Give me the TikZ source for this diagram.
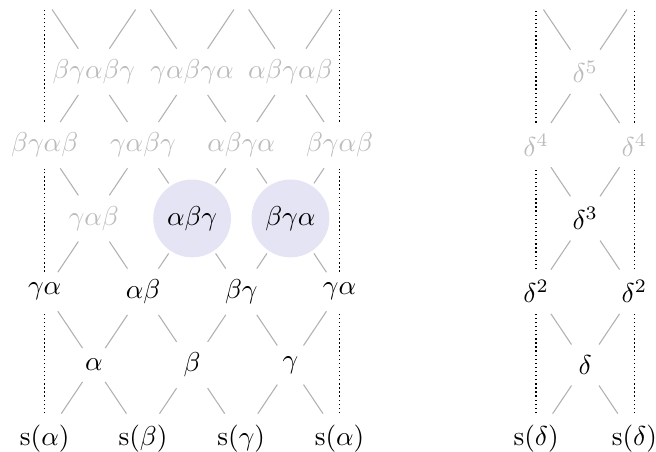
\documentclass[tikz,border=0pt]{standalone}
\definecolor{hilite}{RGB}{228,228,244}
\definecolor{faded}{RGB}{188,188,188}
\definecolor{edgegray}{RGB}{178,178,178}

\begin{document}
\begin{tikzpicture}[x=18pt, y=26.85pt,
		every node/.style={inner sep=3pt},
		fade/.style={text=faded},
		hit/.style={circle, fill=hilite, minimum size=28.5pt},
		link/.style={edgegray, line width=0.4pt, shorten <=1pt, shorten >=1pt},
		wrap/.style={densely dotted, line width=0.5pt, shorten <=1pt, shorten >=1pt}]
		\useasboundingbox (-0.91,-0.18) rectangle (12.44,5.98);

		% left lattice
		\node (r0-0) at (0,0) {$\mathrm{s}(\alpha)$};
		\node (r0-2) at (2,0) {$\mathrm{s}(\beta)$};
		\node (r0-4) at (4,0) {$\mathrm{s}(\gamma)$};
		\node (r0-6) at (6,0) {$\mathrm{s}(\alpha)$};
		\node (r1-1) at (1,1) {$\alpha$};
		\node (r1-3) at (3,1) {$\beta$};
		\node (r1-5) at (5,1) {$\gamma$};
		\node (r2-0) at (0,2) {$\gamma\alpha$};
		\node (r2-2) at (2,2) {$\alpha\beta$};
		\node (r2-4) at (4,2) {$\beta\gamma$};
		\node (r2-6) at (6,2) {$\gamma\alpha$};
		\node[fade] (r3-1) at (1,3) {$\gamma\alpha\beta$};
		\node[hit] (r3-3) at (3,3) {$\alpha\beta\gamma$};
		\node[hit] (r3-5) at (5,3) {$\beta\gamma\alpha$};
		\node[fade] (r4-0) at (0,4) {$\beta\gamma\alpha\beta$};
		\node[fade] (r4-2) at (2,4) {$\gamma\alpha\beta\gamma$};
		\node[fade] (r4-4) at (4,4) {$\alpha\beta\gamma\alpha$};
		\node[fade] (r4-6) at (6,4) {$\beta\gamma\alpha\beta$};
		\node[fade] (r5-1) at (1,5) {$\beta\gamma\alpha\beta\gamma$};
		\node[fade] (r5-3) at (3,5) {$\gamma\alpha\beta\gamma\alpha$};
		\node[fade] (r5-5) at (5,5) {$\alpha\beta\gamma\alpha\beta$};

		% right lattice
		\node (r0-10) at (10,0) {$\mathrm{s}(\delta)$};
		\node (r0-12) at (12,0) {$\mathrm{s}(\delta)$};
		\node (r1-11) at (11,1) {$\delta$};
		\node (r2-10) at (10,2) {$\delta^2$};
		\node (r2-12) at (12,2) {$\delta^2$};
		\node (r3-11) at (11,3) {$\delta^3$};
		\node[fade] (r4-10) at (10,4) {$\delta^4$};
		\node[fade] (r4-12) at (12,4) {$\delta^4$};
		\node[fade] (r5-11) at (11,5) {$\delta^5$};

		% top row, left empty
		\foreach \i in {0,2,4,6,10,12}
			\node (r6-\i) at (\i,6) {};

		\foreach \i/\l/\r in {1/0/2, 3/2/4, 5/4/6, 11/10/12}
			\foreach \j/\d/\u in {1/0/2, 3/2/4, 5/4/6} {
				\draw[link] (r\j-\i) -- (r\d-\l);
				\draw[link] (r\j-\i) -- (r\d-\r);
				\draw[link] (r\j-\i) -- (r\u-\l);
				\draw[link] (r\j-\i) -- (r\u-\r);
			}

		\foreach \i in {0,6,10,12}
			\foreach \d/\u in {0/2, 2/4, 4/6}
				\draw[wrap] (r\d-\i) -- (r\u-\i);
	\end{tikzpicture}
\end{document}
